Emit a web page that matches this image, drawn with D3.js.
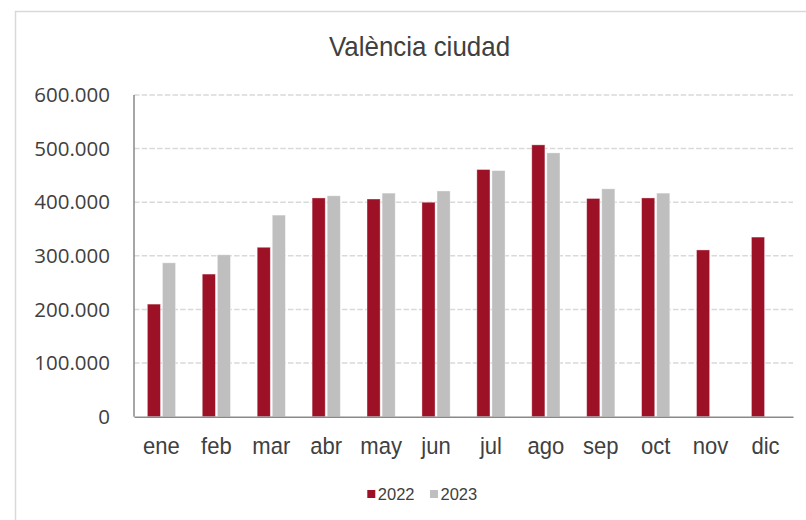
<!DOCTYPE html>
<html>
<head>
<meta charset="utf-8">
<script src="https://cdn.jsdelivr.net/npm/d3@7"></script>
<style>
  html, body { margin: 0; padding: 0; background: #fff; }
  svg { display: block; }
</style>
</head>
<body>
<svg id="chart" width="806" height="520"></svg>
<script>
const title = "València ciudad";
const months = ["ene","feb","mar","abr","may","jun","jul","ago","sep","oct","nov","dic"];
const seriesNames = ["2022","2023"];
const values2022 = [210000, 266000, 316000, 408000, 406000, 400000, 461000, 507000, 407000, 408000, 311000, 335000];
const values2023 = [287000, 302000, 376000, 412000, 417000, 421000, 459000, 492000, 425000, 417000, null, null];
const yTicks = [0, 100000, 200000, 300000, 400000, 500000, 600000];
const colors = ["#9D1127", "#BFBFBF"];

const svg = d3.select("#chart");
const textColor = "#404040";

// outer frame (clipped at right and bottom)
svg.append("rect")
  .attr("x", 15.5).attr("y", 11.5)
  .attr("width", 900).attr("height", 700)
  .attr("fill", "#fff").attr("stroke", "#d9d9d9").attr("stroke-width", 1.5);

const plotLeft = 134, plotRight = 793, plotTop = 95, plotBottom = 416.7;

const x = d3.scaleBand().domain(months).range([plotLeft, plotRight]).padding(0);
const y = d3.scaleLinear().domain([0, 600000]).range([plotBottom, plotTop]);

const fmt = v => d3.format(",")(v).replace(/,/g, ".");

// gridlines
svg.append("g").selectAll("line")
  .data(yTicks.filter(t => t > 0))
  .join("line")
  .attr("x1", plotLeft).attr("x2", plotRight)
  .attr("y1", d => y(d)).attr("y2", d => y(d))
  .attr("stroke", "#d9d9d9").attr("stroke-width", 1.5)
  .attr("stroke-dasharray", "5.5,2.2");

// y tick labels via axis
const yAxis = d3.axisLeft(y).tickValues(yTicks).tickFormat(fmt).tickSize(0).tickPadding(24);
const yg = svg.append("g").attr("transform", `translate(${plotLeft},0)`).call(yAxis);
yg.select(".domain").remove();
yg.selectAll("text")
  .attr("fill", textColor)
  .style("font-family", "'Open Sans', 'Noto Sans', sans-serif")
  .style("font-size", "20.5px");

// bars
const groupW = 28.2;
const sub = d3.scaleBand().domain(seriesNames).range([0, groupW]).paddingInner(0.13);
const groupOffset = (x.bandwidth() - groupW) / 2;
const series = [values2022, values2023];
series.forEach((vals, si) => {
  svg.append("g").selectAll("rect")
    .data(months.map((m, i) => ({m, v: vals[i]})).filter(d => d.v != null))
    .join("rect")
    .attr("x", d => x(d.m) + groupOffset + sub(seriesNames[si]))
    .attr("width", sub.bandwidth())
    .attr("y", d => y(d.v))
    .attr("height", d => y(0) - y(d.v))
    .attr("fill", colors[si])
    .attr("stroke", "rgba(255,255,255,0.45)")
    .attr("stroke-width", 0.8);
});

// axis lines
svg.append("line")
  .attr("x1", plotLeft).attr("x2", plotLeft).attr("y1", plotTop).attr("y2", plotBottom)
  .attr("stroke", "#898989").attr("stroke-width", 1.5);
const xAxis = d3.axisBottom(x).tickSize(0).tickPadding(0);
const xg = svg.append("g").attr("transform", `translate(0,${plotBottom})`).call(xAxis);
xg.select(".domain").attr("stroke", "#898989").attr("stroke-width", 1.5);
xg.selectAll(".tick text")
  .attr("fill", textColor)
  .attr("y", 0).attr("dy", 0)
  .style("font-family", "'Liberation Sans', Arial, sans-serif")
  .style("font-size", "24.5px")
  .attr("transform", "translate(0,37.5) scale(0.9,1)");

// title
svg.append("text")
  .attr("transform", "translate(419.5,56) scale(0.91,1)")
  .attr("text-anchor", "middle")
  .attr("fill", textColor)
  .style("font-family", "'Liberation Sans', Arial, sans-serif")
  .style("font-size", "28.5px")
  .text(title);

// legend
const legend = svg.append("g");
const legendX = [367.3, 430];
seriesNames.forEach((name, i) => {
  legend.append("rect")
    .attr("x", legendX[i]).attr("y", 490).attr("width", 8).attr("height", 8)
    .attr("fill", colors[i]);
  legend.append("text")
    .attr("x", legendX[i] + 10.5).attr("y", 499.5)
    .attr("fill", textColor)
    .style("font-family", "'Liberation Sans', Arial, sans-serif")
    .style("font-size", "16.5px")
    .text(name);
});
</script>
</body>
</html>
